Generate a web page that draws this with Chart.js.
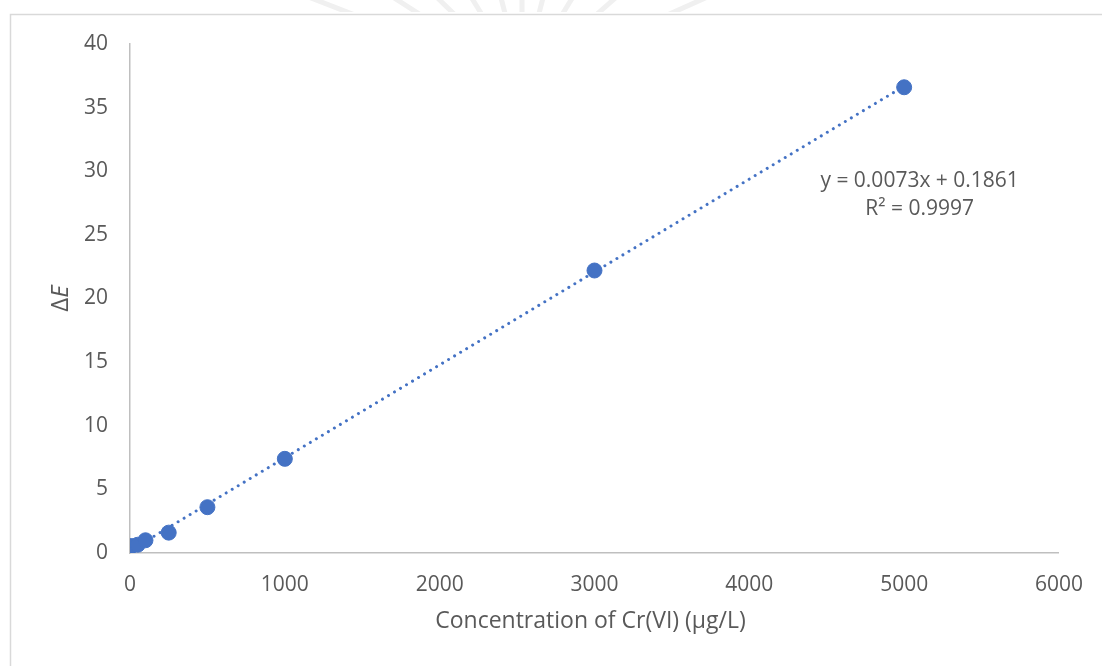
<!DOCTYPE html>
<html>
<head>
<meta charset="utf-8">
<title>Cr(VI) calibration</title>
<script src="https://cdn.jsdelivr.net/npm/chart.js@4.4.1/dist/chart.umd.min.js"></script>
<style>
  html, body { margin: 0; padding: 0; background: #fff; }
  #wrap { width: 1102px; height: 666px; }
</style>
</head>
<body>
<div id="wrap"><canvas id="calib" width="1102" height="666"></canvas></div>
<script>
// calibration standards (µg/L) and measured colour difference
const conc = [0, 10, 50, 100, 250, 500, 1000, 3000, 5000];
const deltaE = [0.5, 0.55, 0.65, 1.0, 1.6, 3.6, 7.4, 22.2, 36.6];

// linear fit reported for the standards
const slope = 0.0073;
const intercept = 0.1861;
const rSquared = 0.9997;

const xTicks = [0, 1000, 2000, 3000, 4000, 5000, 6000];
const yTicks = [0, 5, 10, 15, 20, 25, 30, 35, 40];

const blue = "#4472C4";
const grey = "#595959";
const FONT = "'Open Sans', 'DejaVu Sans', sans-serif";

const points = conc.map((x, i) => ({ x: x, y: deltaE[i] }));
const fitEnds = [conc[0], conc[conc.length - 1]];
const fitLine = fitEnds.map((x) => ({ x: x, y: slope * x + intercept }));

// frame, faint header mark, axis titles and fit equation
const decor = {
    id: "decor",
    beforeDraw(chart) {
        const c = chart.ctx;
        c.save();
        // faint rays at the very top
        c.beginPath();
        c.rect(0, 0, chart.width, 12);
        c.clip();
        c.strokeStyle = "#f0f0f0";
        c.lineWidth = 5;
        [-1.35, -1.2, -1.0, -0.8, -0.55, -0.25, 0.0, 0.25, 0.55, 0.85, 1.15, 1.35].forEach((a) => {
            c.beginPath();
            c.moveTo(522 + Math.sin(a) * 60, 80 - Math.cos(a) * 60);
            c.lineTo(522 + Math.sin(a) * 260, 80 - Math.cos(a) * 260);
            c.stroke();
        });
        c.restore();

        c.save();
        c.strokeStyle = "#d9d9d9";
        c.lineWidth = 1.5;
        c.beginPath();
        c.moveTo(10.5, chart.height);
        c.lineTo(10.5, 14.5);
        c.lineTo(chart.width, 14.5);
        c.stroke();
        c.restore();
    },
    afterDraw(chart) {
        const c = chart.ctx;
        const area = chart.chartArea;
        const xs = chart.scales.x;
        c.save();
        c.fillStyle = grey;
        c.textAlign = "center";
        c.textBaseline = "middle";

        // x title
        c.font = "23px " + FONT;
        c.fillText("Concentration of Cr(VI) (µg/L)", (area.left + area.right) / 2 - 4, 621);

        // y title: ΔE with italic E
        c.save();
        c.translate(61, (area.top + area.bottom) / 2);
        c.rotate(-Math.PI / 2);
        c.font = "24px " + FONT;
        const wD = c.measureText("Δ").width;
        c.font = "italic 24px " + FONT;
        const wE = c.measureText("E").width;
        c.textAlign = "left";
        c.font = "24px " + FONT;
        c.fillText("Δ", -(wD + wE) / 2, 0);
        c.font = "italic 24px " + FONT;
        c.fillText("E", -(wD + wE) / 2 + wD, 0);
        c.restore();

        // fit equation
        c.font = "21px " + FONT;
        const ex = xs.getPixelForValue(5100);
        c.fillText("y = " + slope.toFixed(4) + "x + " + intercept.toFixed(4), ex, 181);
        c.fillText("R² = " + rSquared.toFixed(4), ex, 209);
        c.restore();
    }
};

new Chart(document.getElementById("calib"), {
    type: "scatter",
    data: {
        datasets: [
            {
                label: "ΔE",
                data: points,
                backgroundColor: blue,
                borderColor: blue,
                pointRadius: 7.5,
                pointHoverRadius: 7.5,
                order: 1
            },
            {
                label: "Linear fit",
                type: "line",
                data: fitLine,
                borderColor: blue,
                borderWidth: 3,
                borderDash: [0.01, 7],
                borderCapStyle: "round",
                pointRadius: 0,
                fill: false,
                order: 2
            }
        ]
    },
    options: {
        responsive: false,
        animation: false,
        devicePixelRatio: 1,
        layout: {
            padding: { left: 0, top: 44, right: 42, bottom: 0 }
        },
        plugins: {
            legend: { display: false },
            tooltip: { enabled: false }
        },
        scales: {
            x: {
                type: "linear",
                min: 0,
                max: 6000,
                afterBuildTicks: (scale) => { scale.ticks = xTicks.map((v) => ({ value: v })); },
                afterFit: (scale) => { scale.height = 113; },
                grid: { display: false, drawTicks: false },
                border: { display: true, color: "#bfbfbf", width: 1.5 },
                ticks: {
                    color: grey,
                    padding: 19,
                    maxRotation: 0,
                    callback: (v) => String(v),
                    font: { family: FONT, size: 21 }
                }
            },
            y: {
                min: 0,
                max: 40,
                afterBuildTicks: (scale) => { scale.ticks = yTicks.map((v) => ({ value: v })); },
                afterFit: (scale) => { scale.width = 130; },
                grid: { display: false, drawTicks: false },
                border: { display: true, color: "#bfbfbf", width: 1.5 },
                ticks: {
                    color: grey,
                    padding: 22,
                    callback: (v) => String(v),
                    font: { family: FONT, size: 21 }
                }
            }
        }
    },
    plugins: [decor]
});
</script>
</body>
</html>
